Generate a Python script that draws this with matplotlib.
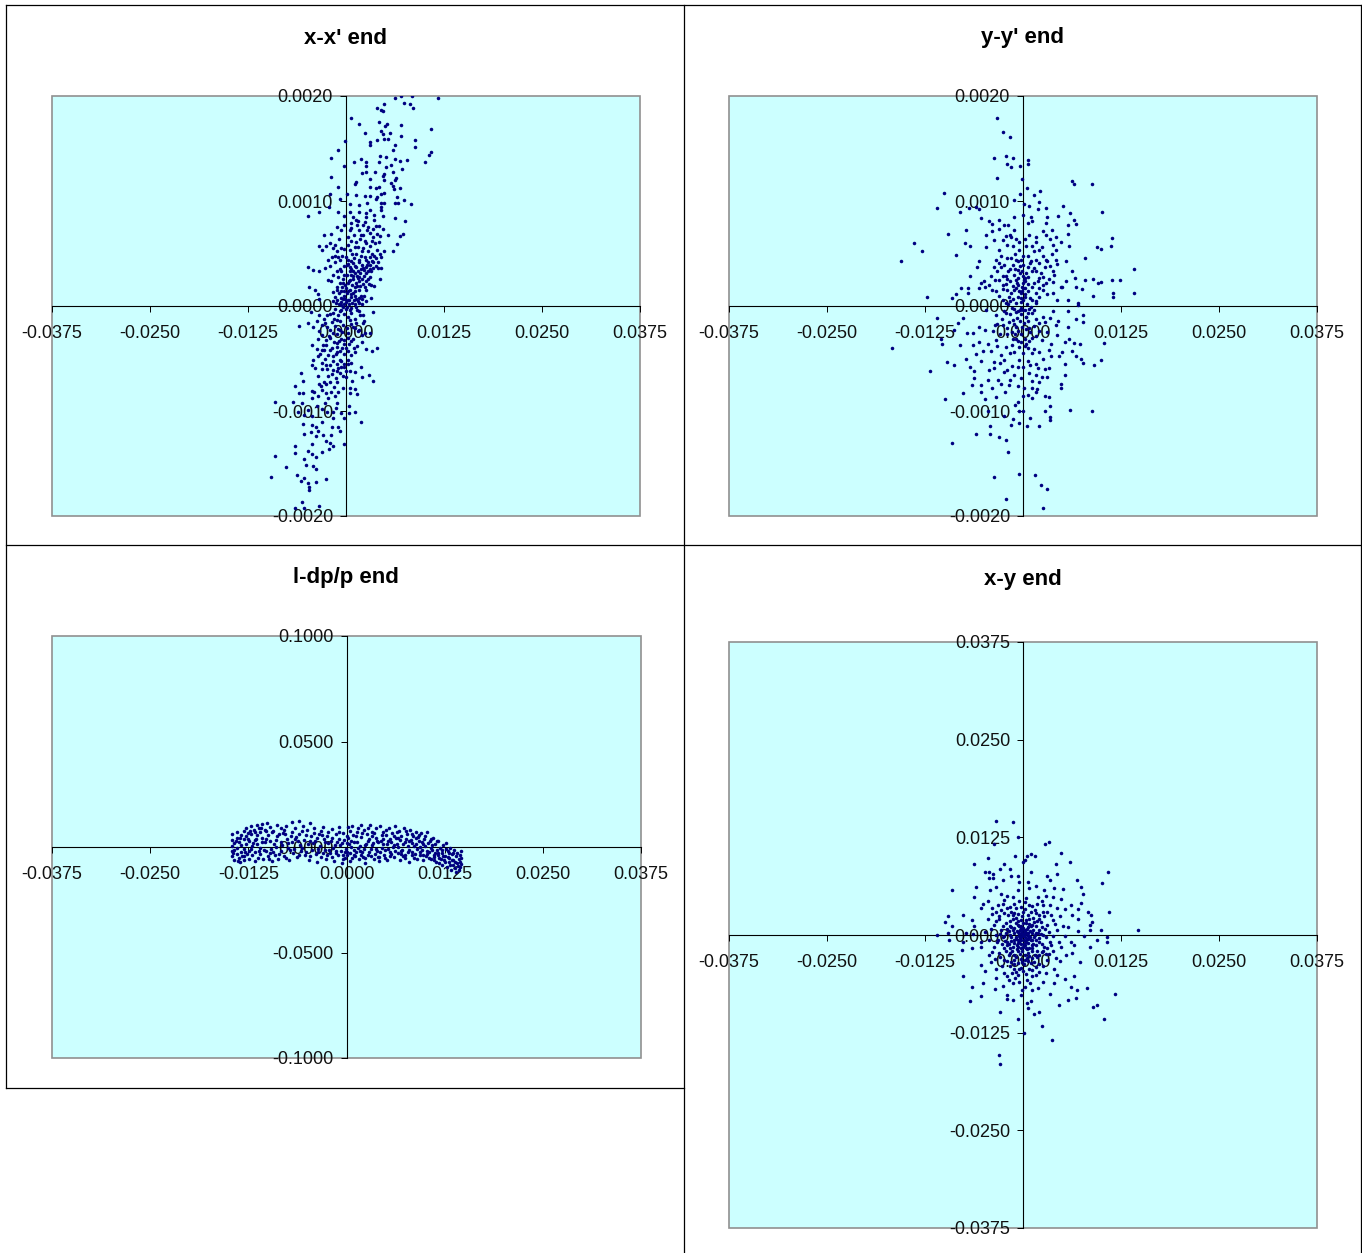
import numpy as np
import matplotlib
matplotlib.use('Agg')
import matplotlib.pyplot as plt
from matplotlib.lines import Line2D

plt.rcParams['font.family'] = ['Liberation Sans', 'DejaVu Sans']
plt.rcParams['axes.unicode_minus'] = False

W, H = 1362, 1253

# x-x' end, x in 1e-4, x' in 1e-5
xxp_points = [(63,198),(70,200),(84,200),(117,198),(74,193),(81,192),(85,189),(40,189),(49,192),(45,187),(47,186),
(6,179),(16,173),(42,175),(52,173),(50,171),(70,172),(108,169),(45,167),(47,164),(56,165),(24,165),(70,162),(-1,157),
(40,158),(49,159),(53,159),(31,156),(31,153),(88,158),(88,151),(62,153),(60,149),(-10,149),(108,147),(106,144),(101,137),
(-19,141),(44,143),(51,142),(19,140),(10,137),(26,137),(26,133),(42,137),(62,140),(69,138),(78,139),(58,134),(51,132),
(72,130),(-2,133),(60,128),(21,127),(26,128),(37,128),(49,126),(47,124),(31,121),(-19,123),(64,122),(62,120),(13,118),
(49,120),(58,117),(60,114),(-10,113),(11,116),(42,113),(38,112),(31,113),(61,111),(69,112),(45,107),(49,108),(40,104),
(-21,107),(1,107),(13,106),(24,105),(31,105),(65,104),(-8,102),(38,102),(74,101),(-22,94),(5,97),(16,96),(45,98),(49,98),
(62,98),(66,98),(83,97),(45,94),(27,98),(-35,90),(-49,86),(-10,90),(16,90),(26,89),(30,91),(45,91),(5,90),(-2,86),(36,87),
(47,86),(62,84),(75,81),(26,85),(13,82),(6,79),(-2,77),(15,81),(24,80),(36,82),(-11,75),(-6,72),(7,74),(17,72),(28,75),
(27,72),(47,73),(35,73),(39,69),(-28,68),(-19,69),(2,66),(10,68),(22,68),(43,67),(53,68),(73,69),(69,67),(65,59),(-20,60),
(-14,58),(-35,57),(-26,57),(-31,53),(-17,55),(2,58),(13,61),(26,60),(37,60),(42,61),(15,56),(22,55),(39,53),(49,52),(60,52),
(-2,54),(5,53),(-14,48),(-10,47),(0,47),(13,50),(24,47),(30,47),(36,48),(45,47),(-14,42),(-8,44),(2,44),(9,41),(17,44),
(28,42),(41,42),(-49,37),(-42,34),(-35,33),(-27,36),(-21,38),(5,37),(13,37),(22,36),(45,36),(30,39),(5,33),(15,33),(32,33),
(-23,25),(-19,24),(-10,28),(-4,26),(9,26),(20,26),(28,26),(44,26),(-8,22),(2,22),(13,22),(24,18),(36,19),(-47,18),(-39,15),
(-36,11),(-12,15),(0,17),(17,15),(26,15),(-14,9),(-2,10),(9,12),(32,8),(-35,7),(-6,4),(13,7),(26,5),(2,6),
(3,40),(7,35),(11,31),(14,29),(18,31),(23,29),(26,31),(31,35),(35,42),(33,50),(28,52),(19,48),(10,46),(6,30),(4,24),(8,20),
(12,18),(16,24),(18,19),(22,21),(25,24),(29,21),(32,20),(-1,20),(-5,18),(-9,12),(-11,18),(-7,8),(-3,14),(1,12),(5,15),(7,9),
(11,10),(15,5),(19,10),(-13,3),(-9,2),(-4,7),(0,4),(4,2),(8,3),(11,2),(16,3),(21,7),(23,10),(-16,5),(-17,13),(-6,33),(-2,38),
(1,30),(9,33),(17,28),(25,37),(38,46),(20,52),(8,50),(-5,48),(33,62),(18,64),(30,70),(42,76),(-9,64),(5,72),
(-20,-8),(-14,-3),(-10,-9),(-6,-4),(-3,-8),(0,-3),(2,-10),(7,-7),(11,-12),(14,-4),(18,-9),(23,-14),(-28,-12),(-24,-20),(-18,-15),
(-14,-19),(-8,-14),(-4,-18),(1,-21),(6,-17),(12,-21),(17,-23),(20,-28),(-30,-28),(-26,-37),(-20,-30),(-15,-34),(-11,-27),(-6,-31),
(-3,-36),(2,-30),(7,-33),(14,-38),(-33,-46),(-27,-50),(-18,-40),(-13,-46),(-8,-43),(-3,-46),(2,-43),(6,-47),(10,-40),(-30,-60),
(-25,-56),(-16,-52),(-12,-55),(-6,-52),(-2,-55),(3,-55),(7,-54),(-28,-72),(-18,-65),(-13,-69),(-8,-64),(-4,-67),(0,-68),
(-45,-6),(34,-6),(-34,-9),(-17,-7),(-8,-5),(5,-4),(17,-5),(22,-9),(-49,-16),(-60,-19),(-42,-20),(-27,-16),(-12,-13),(5,-13),(13,-16),
(22,-16),(-34,-24),(-21,-23),(-8,-23),(2,-26),(15,-24),(24,-26),(30,-26),(-36,-31),(-25,-32),(-2,-32),(9,-31),(20,-34),(-43,-37),
(-31,-42),(-21,-42),(-11,-39),(0,-40),(11,-44),(26,-41),(33,-43),(40,-40),(-36,-48),(-17,-48),(-8,-51),(2,-51),(-42,-51),(-43,-56),
(-31,-54),(-21,-56),(-10,-59),(-2,-58),(5,-62),(11,-63),(19,-58),(-40,-59),(-57,-64),(-36,-67),(-23,-67),(-12,-62),(0,-62),(29,-66),
(34,-71),(20,-68),(-55,-71),(-21,-72),(-11,-72),(8,-71),(-65,-76),(-32,-76),(-44,-81),(-31,-80),(-19,-82),(-4,-78),(5,-78),(11,-79),
(-60,-83),(-55,-83),(-41,-82),(-25,-83),(-10,-82),(14,-84),(5,-83),(-44,-88),(-36,-86),(-23,-88),(-14,-86),(-90,-91),(-68,-91),(-56,-92),
(-27,-92),(-12,-92),(4,-95),(-48,-99),(-61,-101),(-44,-105),(-53,-104),(-17,-101),(-6,-102),(4,-102),(11,-101),(-17,-107),(-2,-107),
(-55,-112),(-31,-110),(-38,-115),(19,-110),(-18,-115),(-10,-115),(-43,-113),(-53,-122),(-45,-120),(-36,-119),(-8,-119),(-29,-123),
(-38,-124),(-19,-123),(-26,-129),(-21,-130),(-44,-131),(-2,-131),(-65,-133),(-17,-133),(-65,-140),(-49,-138),(-31,-139),(-44,-141),
(-22,-136),(-90,-143),(-38,-144),(-53,-146),(-51,-151),(-76,-153),(-42,-152),(-38,-155),(-63,-161),(-96,-163),(-53,-164),(-58,-167),
(-26,-165),(-38,-168),(-49,-169),(-47,-172),(-47,-175),(-56,-187),(-35,-190),(-65,-192),(-53,-192),
(-2,2),(1,-1),(4,6),(-4,-1),(7,-2),(10,6),(-7,1),(13,-1),(-11,6),(17,8),(20,2),(6,11),(-1,7),(3,14),(12,14),(14,19),(-6,14),(-4,22),(5,25),(9,29),
(15,27),(19,35),(11,38),(23,34),(27,39),(16,42),(7,43),(1,39),(-3,30),(-8,35),(-12,33),(-16,30),(25,44),(33,43),(35,36),(21,39),(28,33),(31,28),
(38,38),(41,36),(43,50),(31,57),(24,62),(19,68),(11,56),(7,62),(-6,55),(-11,52),(-18,47),(-23,44),(34,66),(38,76),(22,77),(14,77),(9,85),
(-10,-22),(-15,-12),(-24,-9),(-31,-18),(-37,-14),(-22,-29),(-29,-37),(-16,-26),(-5,-25),(9,-20),(-12,-35),(-9,-33),(-23,-47),(-28,-42),(-37,-41),
(-12,-44),(-5,-40),(4,-36),(-24,-60),(-17,-61),(-7,-58),(-34,-74),(-26,-74),(-15,-77),(-37,-95),(-31,-98),(-24,-101),(-13,-97)]

# y-y' end, y in 1e-4, y' in 1e-5
yyp_points = [(-33,179),(-26,166),(-17,161),(-22,143),(-37,141),(-13,141),(6,139),(6,135),(-20,135),(-15,132),(-4,133),(-33,122),(-1,121),
(62,119),(65,116),(88,116),(5,112),(22,110),(-101,108),(-4,107),(14,106),(-11,101),(21,99),(1,97),(-110,93),(8,95),(51,95),(-69,93),
(-60,94),(-80,90),(-56,92),(19,92),(29,93),(101,90),(60,89),(0,87),(-11,85),(-53,84),(-31,82),(10,85),(31,85),(45,86),(65,82),(12,81),
(-44,81),(-39,78),(-24,77),(-19,77),(6,79),(29,79),(58,77),(68,78),(-11,72),(-30,73),(-39,71),(-73,72),(-96,69),(-47,68),(8,68),(25,71),
(37,72),(58,69),(-22,67),(-15,66),(-37,63),(17,66),(29,68),(42,66),(113,65),(-139,60),(-74,60),(-68,57),(-5,61),(-13,57),(-47,56),(-26,63),
(4,57),(12,57),(38,58),(48,61),(59,57),(94,56),(99,54),(112,57),(-129,52),(-30,53),(-5,53),(14,52),(21,53),(42,53),(-85,49),(-28,48),
(-15,46),(0,48),(25,48),(37,50),(79,46),(-156,43),(-56,43),(-35,44),(-9,44),(10,43),(31,43),(42,44),(55,43),(21,41),(-37,37),(-28,37),
(-13,39),(0,39),(-59,37),(28,37),(44,40),(142,35),(-33,33),(-7,34),(23,31),(38,33),(-22,29),(0,29),(12,33),(62,33),(-68,29),(66,27),
(79,25),(89,26),(99,23),(113,25),(124,25),(-50,24),(-30,25),(-9,25),(19,24),(38,23),(55,24),(-54,22),(-22,21),(0,22),(29,22),(48,18),
(96,22),(-79,17),(-70,17),(-56,17),(-39,15),(-9,17),(0,17),(21,17),(50,18),(68,18),(75,16),(-70,12),(-85,11),(-49,18),(-34,14),(-15,12),
(-3,12),(6,14),(17,12),(38,12),(89,10),(115,12),(115,9),(142,12),(-122,9),(-90,8),(-13,7),(0,6),(12,6),(44,6),(58,6),(70,3),(-22,3),(17,3),
(-10,35),(-4,31),(3,27),(-17,24),(-13,19),(-6,20),(2,24),(6,21),(11,18),(-1,14),(-6,9),(2,9),(-2,4),(-9,3),(5,2),(9,8),(-18,9),(-26,16),
(-20,15),(14,22),(25,28),(-19,33),(7,37),(-6,27),(3,17),(-3,-2),(2,-4),(-7,-5),(-12,-3),(8,-3),(12,-7),(-2,-8),(4,-10),(-16,-8),(-8,-11),
(-4,-14),(1,-16),(7,-14),(-18,-15),(-11,-17),(16,-12),(20,-16),(-1,-20),(4,-22),(-7,-24),(-14,-25),(9,-25),(14,-19),(-2,-27),(3,-31),
(-9,-31),(-20,-27),(16,-29),(2,-38),(-3,-34),(8,-33),
(-167,-40),(-110,-11),(76,-9),(76,-15),(-77,-11),(-83,-16),(-88,-23),(-105,-31),(-103,-36),(-80,-37),(-71,-26),(-64,-26),(-56,-20),(-48,-23),
(-36,-18),(-26,-18),(-13,-13),(4,-10),(25,-10),(38,-5),(57,-5),(70,1),(68,-12),(-22,-7),(-35,-9),(-47,-4),(0,-4),(14,-4),(-9,-20),(8,-21),
(21,-24),(42,-18),(58,-20),(44,-28),(59,-31),(65,-35),(73,-36),(103,-35),(53,-34),(36,-36),(4,-36),(-13,-31),(-34,-32),(-45,-36),(-56,-34),
(-64,-37),(-5,-39),(6,-40),(21,-44),(33,-42),(50,-44),(62,-43),(68,-48),(74,-50),(76,-54),(99,-51),(90,-56),(46,-48),(36,-48),(12,-45),
(-17,-45),(-28,-47),(-41,-43),(-51,-43),(-60,-46),(-73,-50),(-97,-53),(-88,-56),(-68,-58),(-119,-62),(-53,-52),(-37,-53),(-24,-51),(-5,-51),
(17,-55),(53,-55),(-37,-59),(-63,-62),(-43,-61),(-20,-61),(0,-58),(19,-59),(33,-59),(53,-66),(-62,-69),(-45,-70),(-32,-70),(-11,-66),(8,-64),
(17,-66),(31,-68),(-65,-75),(-54,-75),(-39,-78),(-28,-74),(-18,-75),(-7,-76),(21,-72),(48,-74),(48,-78),(1,-78),(11,-78),(18,-79),(-76,-83),
(-53,-82),(-23,-82),(17,-82),(0,-86),(7,-85),(-34,-87),(11,-88),(28,-86),(33,-87),(-99,-89),(-49,-89),(-7,-91),(-10,-94),(34,-95),(0,-100),
(60,-99),(88,-100),(28,-100),(-5,-100),(-45,-100),(-24,-105),(9,-107),(35,-106),(35,-109),(-13,-108),(-15,-113),(-5,-111),(-42,-114),(5,-114),
(21,-114),(-60,-122),(-42,-122),(-30,-125),(-22,-128),(-90,-130),(-19,-139),(-5,-160),(15,-161),(-37,-163),(23,-170),(31,-174),(-22,-184),(26,-192),
(-2,8),(-5,14),(3,11),(-11,15),(-8,22),(-1,18),(1,25),(4,31),(7,28),(-4,38),(-12,30),(-17,35),(-21,26),(-25,20),(-30,10),(-26,6),(-19,2),(-14,-2),(-9,-6),
(-4,-4),(6,-7),(10,-1),(16,5),(20,9),(25,15),(31,11),(26,20),(33,26),(40,30),(34,38),(29,44),(17,44),(7,48),(-3,44),(-10,50),(-20,46),(-24,39),(-31,41),
(16,33),(21,27),(9,41),(14,36),(-7,43),(-1,33),(-21,58),(-9,64),(-17,68),(3,64),(16,61),(24,56),(34,64),(-41,29),(-44,20),(-36,25),(-26,29),(-17,5),
(-24,-5),(-27,-12),(-20,-21),(-29,-27),(-38,-24),(-33,-17),(-10,-27),(-6,-33),(11,-30),(24,-32),(30,-25),(28,-15),(34,-11),(45,-14),(-14,-37),(-22,-39),
(-33,-38),(-29,-54),(-11,-44),(0,-45),(6,-52),(14,-41),(26,-50),(28,-60),(-6,-58),(9,-56),(24,-68),(-14,-57),(-24,-63),(-16,-70),(-2,-69),(12,-71)]

# l-dp/p end, l in 1e-4, dp/p in 1e-4
ldp_points = [(-146,60),(-146,35),(-146,5),(-146,-20),(-146,-42),(-143,20),(-143,-15),(-143,-60),(-140,70),(-140,45),(-140,-5),(-140,-35),
(-137,25),(-137,-50),(-136,-72),(-134,55),(-134,10),(-134,-25),(-131,75),(-131,38),(-131,-10),(-131,-60),(-128,90),(-128,50),(-128,15),
(-127,-35),(-125,68),(-124,28),(-124,-18),(-124,-55),(-121,100),(-121,60),(-120,5),(-120,-40),(-118,82),(-117,35),(-117,-22),(-117,-66),
(-114,105),(-114,55),(-114,15),(-113,-50),(-111,90),(-110,70),(-110,-5),(-110,-32),(-107,108),(-107,42),(-106,-58),(-104,80),(-104,22),
(-103,-20),(-101,112),(-100,58),(-100,-44),(-97,95),(-97,30),(-96,-8),(-95,-65),(-93,78),(-92,12),(-91,-36),(-89,105),(-88,50),(-87,-55),
(-84,88),(-84,25),(-83,-18),(-81,65),(-80,-42),(-77,100),(-76,40),(-75,-4),(-73,-60),(-70,118),(-70,72),(-69,22),(-68,-28),(-65,92),(-64,48),
(-63,-48),(-60,125),(-60,62),(-59,8),(-58,-20),(-55,100),(-54,35),(-53,-38),(-50,80),(-49,14),(-48,-62),(-46,112),(-45,50),(-44,-12),
(-41,90),(-40,28),(-39,-32),(-38,-70),(-35,62),(-34,5),(-32,-46),(-30,95),(-29,38),(-28,-14),(-26,-58),(-24,72),(-23,18),(-21,-30),(-19,85),
(-18,45),(-17,-4),(-16,-66),(-13,60),(-12,25),(-11,-40),(-9,95),(-8,8),(-7,-20),(-6,-76),(-4,66),(-3,35),(-2,-52),(-1,-8),(2,42),(2,95),
(3,12),(4,-30),(5,-66),(7,100),(8,58),(9,-14),(11,-44),(13,72),(14,25),(15,-6),(16,-58),(18,105),(19,48),(20,-26),(22,82),(23,10),(24,-78),
(26,60),(27,30),(28,-40),(30,105),(31,-10),(33,72),(34,18),(35,-55),(37,92),(38,45),(39,-20),(41,-68),(43,100),(44,28),(45,-4),(47,70),
(48,-36),(50,55),(51,12),(52,-60),(54,88),(55,36),(56,-22),(58,68),(59,-2),(60,-46),(62,98),(63,42),(64,14),(66,-30),(67,75),(68,-62),
(70,50),(71,-12),(73,90),(74,25),(75,-40),(77,62),(78,5),(79,-70),(81,80),(82,35),(83,-24),(85,50),(86,-50),(88,72),(89,12),(90,-8),
(92,30),(93,-36),(95,66),(96,-14),(97,-60),(99,40),(100,5),(101,-44),(103,72),(104,20),(105,-24),(107,-5),(108,-58),(110,45),(111,-36),
(113,12),(114,-70),(115,-15),(117,30),(118,-50),(119,-4),(121,-84),(122,-28),(123,10),(124,-62),(125,-42),(127,18),(128,-95),(129,-20),
(130,-70),(131,-52),(132,-5),(133,-110),(134,-32),(135,-84),(136,-62),(137,-12),(138,-100),(139,-44),(140,-118),(141,-76),(141,-28),
(142,-90),(143,-56),(143,-108),(144,-38),(145,-72),(145,-96),(146,-52),(146,-20),(146,-82),
(-130,-45),(-122,-10),(-115,40),(-108,22),(-102,75),(-98,-28),(-90,35),(-86,-35),(-78,60),(-72,-14),(-66,40),(-57,-6),(-52,55),(-43,20),
(-36,-22),(-31,58),(-25,-40),(-20,30),(-14,-18),(-10,38),(-5,-36),(0,18),(1,-25),(6,30),(10,-40),(12,50),(17,-18),(21,-48),(25,15),(29,-22),
(32,52),(36,-34),(40,22),(42,-48),(46,38),(49,-14),(53,30),(57,-34),(61,8),(65,42),(69,-18),(72,-44),(76,36),(80,-12),(84,18),(87,-32),
(91,48),(94,-22),(98,14),(102,-34),(106,28),(109,-16),(112,-46),(116,-28),(120,-56),
(-144,-30),(-141,28),(-138,-68),(-135,42),(-133,-42),(-129,-22),(-126,40),(-123,78),(-119,18),(-116,72),(-112,-18),(-109,92),(-105,-12),(-102,40),
(-99,-56),(-95,70),(-93,-24),(-90,-2),(-86,62),(-82,8),(-79,80),(-77,-50),(-74,18),(-71,50),(-67,-8),(-62,28),(-61,-40),(-57,78),(-52,-22),(-47,30),
(-46,-42),(-42,68),(-37,42),(-36,-8),(-33,78),(-30,-30),(-27,22),(-25,50),(-22,-12),(-19,-48),(-15,10),(-13,-28),(-10,70),(-6,18),(-5,-55),(-2,-22),
(0,52),(1,-40),(4,75),(6,-2),(7,-50),(10,22),(12,-25),(15,88),(17,4),(18,-36),(20,65),(22,-8),(24,-52),(27,90),(29,40),(31,-42),(32,8),(35,68),(37,-8),
(39,30),(40,-48),(43,-24),(45,58),(46,12),(49,-50),(50,82),(53,-10),(55,-44),(57,22),(60,52),(62,-20),(64,70),(66,2),(68,32),(70,-35),(72,12),(74,-52),
(76,78),(78,-22),(80,30),(83,60),(84,-40),(86,6),(88,42),(90,-56),(92,58),(94,2),(96,24),(98,-38),(100,52),(103,-18),(105,-50),(107,38),(109,10),
(111,-62),(113,-30),(115,28),(117,-40),(118,-75),(121,-12),(123,-44),(125,-72),(127,-8),(129,-48),(130,-28),(132,-85),(134,-60),(136,-30),(138,-70)]

# x-y end, x in 1e-4, y in 1e-4
xy_points = [(-35,146),(-13,144),(-6,126),(-37,116),(28,117),(33,119),(10,104),(5,101),(15,101),(49,105),(-10,101),(-45,99),(3,96),(0,93),
(-62,91),(42,91),(60,93),(-24,91),(-17,84),(-29,84),(-49,80),(-44,80),(-38,78),(10,80),(108,80),(-15,75),(-7,76),(-44,73),(-38,73),(-26,70),
(31,75),(43,78),(34,70),(69,70),(101,66),(74,62),(-5,68),(6,68),(17,63),(27,58),(-34,62),(-60,62),(-91,58),(8,60),(-7,58),(39,60),(51,59),
(-42,57),(-28,53),(29,50),(77,53),(-62,49),(-13,48),(4,47),(19,49),(38,48),(48,46),(-45,44),(-24,45),(-5,43),(-51,40),(-32,38),(-17,36),(8,38),
(25,38),(34,38),(61,39),(74,41),(-54,35),(-39,34),(-9,34),(44,34),(53,33),(70,33),(83,29),(110,30),(-76,26),(-96,24),(-34,30),(-24,28),(-15,30),
(0,30),(17,28),(27,24),(63,26),(87,26),(-99,17),(-65,19),(-45,21),(-30,21),(-13,21),(8,21),(21,21),(38,19),(70,20),(88,17),(-90,12),(-62,11),
(-37,13),(-22,15),(-7,13),(4,15),(12,13),(31,13),(51,11),(57,10),(85,13),(99,6),(-49,4),(-28,6),(-13,6),(0,9),(21,6),(44,7),(70,5),(85,6),(147,6),
(-110,0),(-96,2),(-73,2),(-64,1),(-34,0),(-17,0),(-5,1),(8,-1),(25,0),(38,-1),(53,-1),(78,-1),(107,-2),(-94,-6),(-77,-9),(-54,-9),(-32,-6),(-20,-9),
(-7,-6),(4,-9),(17,-6),(34,-9),(46,-9),(61,-9),(94,-6),(107,-9),(-78,-19),(-65,-17),(-54,-15),(-37,-15),(-24,-17),(-13,-15),(0,-15),(12,-17),(27,-15),
(48,-15),(85,-15),(65,-13),(-43,-26),(-30,-23),(-17,-23),(-7,-21),(6,-23),(21,-26),(38,-21),(55,-26),(63,-23),(-54,-38),(-41,-34),(-24,-32),(-11,-32),
(2,-32),(14,-34),(31,-32),(47,-33),(73,-35),(-49,-46),(-34,-44),(-17,-40),(-5,-43),(8,-44),(25,-40),(40,-43),(-76,-52),(-34,-55),(-20,-53),(-7,-51),
(17,-51),(29,-49),(43,-51),(65,-52),(-51,-62),(-65,-67),(-26,-65),(-13,-62),(2,-66),(25,-60),(40,-62),(53,-56),(-36,-69),(12,-70),(61,-67),(81,-68),
(69,-70),(-54,-78),(-21,-77),(-3,-77),(34,-75),(117,-75),(-67,-85),(-21,-82),(-13,-83),(10,-84),(58,-83),(67,-81),(5,-87),(46,-90),(89,-92),(94,-89),
(6,-94),(-29,-98),(14,-101),(21,-99),(-6,-107),(103,-108),(24,-117),(1,-126),(37,-135),(-31,-153),(-29,-165),
(-28,32),(-21,35),(-19,25),(-16,18),(-12,28),(-9,22),(-6,27),(-3,19),(-1,24),(3,33),(6,26),(10,29),(13,22),(15,32),(20,25),(23,16),(26,30),
(-25,12),(-20,8),(-17,12),(-11,9),(-9,15),(-4,7),(-2,12),(2,6),(6,10),(9,5),(13,7),(16,11),(19,3),(24,10),(28,8),(33,4),
(-26,-3),(-22,3),(-15,-3),(-11,2),(-9,-2),(-6,4),(-3,-3),(-1,3),(2,-2),(5,2),(7,-5),(11,2),(14,-3),(17,3),(20,-4),(23,1),(29,-3),
(-27,-12),(-23,-8),(-18,-11),(-15,-8),(-11,-10),(-8,-13),(-5,-9),(-2,-11),(1,-6),(3,-13),(7,-10),(10,-7),(13,-11),(16,-13),(20,-9),(24,-12),(31,-16),
(-22,-20),(-18,-26),(-14,-21),(-11,-25),(-8,-18),(-4,-24),(-1,-20),(2,-25),(5,-18),(8,-27),(11,-21),(15,-25),(18,-20),(24,-22),(29,-24),
(-15,-34),(-9,-28),(-3,-31),(1,-37),(5,-30),(10,-36),(-12,-44),(-2,-42),(4,-50),(12,-45),(-10,-55),(5,-58),
(-31,24),(-26,40),(-34,18),(-40,27),(-20,50),(-11,40),(-3,36),(2,42),(12,37),(18,40),(24,43),(31,30),(36,26),(41,14),(47,24),(-41,8),(-33,-9),(-29,1),
(-44,-7),(-39,-22),(-36,-31),(-29,-28),(-21,-33),(-27,-40),(-12,-37),(-6,-36),(-1,-34),(7,-33),(12,-30),(18,-28),(26,-20),(33,-24),(36,-13),(42,-30),
(21,-37),(16,-41),(-14,-48),(-9,-47),(0,-46),(11,-52),(21,-47),(-24,-48),(-18,-58),(-5,-60),(9,-62),(-1,-70),(19,-68),(-15,10),(-8,5),(-5,12),(-1,-1),
(3,1),(6,-1),(9,-3),(12,-6),(15,0),(-3,9),(0,15),(4,19),(8,14),(10,12),(14,16),(18,18),(-7,18),(-13,25),(-18,5),(-24,-1),(-20,-13),(-16,-16),(-12,-6),
(-6,-15),(-3,-17),(1,-12),(4,-17),(8,-16),(11,-13),(-4,-4),(-2,-7),(2,-8),(5,-5),(-9,-5),(-7,-10),(-1,6),(3,4),(5,8),(7,3),(-5,-1),(0,0),(-2,2),(2,2)]

xxp_x, xxp_y = np.array(xxp_points).T
yyp_x, yyp_y = np.array(yyp_points).T
ldp_x, ldp_y = np.array(ldp_points).T
xy_x, xy_y = np.array(xy_points).T

titles = ["x-x' end", "y-y' end", "l-dp/p end", "x-y end"]
x_ticks = [-0.0375, -0.0250, -0.0125, 0.0, 0.0125, 0.0250, 0.0375]
small_ticks = [-0.0020, -0.0010, 0.0, 0.0010, 0.0020]
dp_ticks = [-0.1000, -0.0500, 0.0, 0.0500, 0.1000]

fig = plt.figure(figsize=(W / 100, H / 100), dpi=100)


def make_panel(box, title, title_y, xs, ys, yticks):
    left, top, right, bottom = box
    ax = fig.add_axes([left / W, 1 - bottom / H, (right - left) / W, (bottom - top) / H])
    ax.set_facecolor('#CCFFFF')
    ax.patch.set_edgecolor('#909090')
    ax.patch.set_linewidth(1.2)
    ax.scatter(xs, ys, s=6.5, c='#000080', linewidths=0, zorder=3)
    ax.set_xlim(-0.0375, 0.0375)
    ax.set_ylim(yticks[0], yticks[-1])
    ax.set_xticks(x_ticks)
    ax.set_yticks(yticks)
    ax.xaxis.set_major_formatter('{x:.4f}')
    ax.yaxis.set_major_formatter('{x:.4f}')
    ax.spines['left'].set_position('zero')
    ax.spines['bottom'].set_position('zero')
    ax.spines['top'].set_visible(False)
    ax.spines['right'].set_visible(False)
    ax.spines['left'].set_linewidth(0.8)
    ax.spines['bottom'].set_linewidth(0.8)
    ax.tick_params(axis='x', length=4.3, width=0.7, pad=9.5, labelsize=13, labelcolor='#111111')
    ax.tick_params(axis='y', length=4.3, width=0.7, pad=5, labelsize=13, labelcolor='#111111')
    fig.text((left + right) / 2 / W - 0.5 / W, 1 - title_y / H, title, ha='center', va='center',
             fontsize=16, fontweight='bold')
    return ax


make_panel((52, 96, 640, 516), titles[0], 38, xxp_x * 1e-4, xxp_y * 1e-5, small_ticks)
make_panel((729, 96, 1317, 516), titles[1], 38, yyp_x * 1e-4, yyp_y * 1e-5, small_ticks)
make_panel((52, 636, 641, 1058), titles[2], 578, ldp_x * 1e-4, ldp_y * 1e-4, dp_ticks)
make_panel((729, 642, 1317, 1228), titles[3], 580, xy_x * 1e-4, xy_y * 1e-4, x_ticks)

# table borders around the four charts
borders = [(6, 4.7, 1361, 4.7), (6, 544.6, 1361, 544.6), (6, 1088, 684, 1088),
           (6, 4.7, 6, 1088), (683.5, 4.7, 683.5, 1253), (1361, 4.7, 1361, 1253)]
for x0, y0, x1, y1 in borders:
    fig.add_artist(Line2D([x0 / W, x1 / W], [1 - y0 / H, 1 - y1 / H], color='black', lw=0.9))

fig.savefig('out.png', dpi=100)
